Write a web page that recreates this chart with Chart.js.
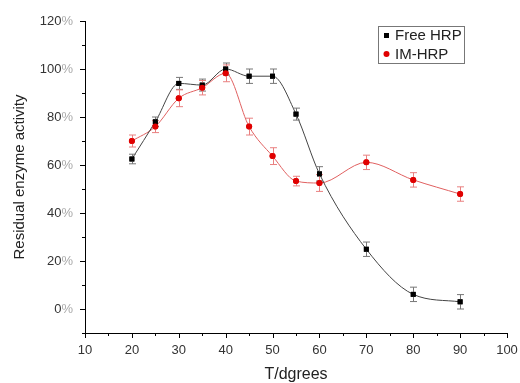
<!DOCTYPE html>
<html>
<head>
<meta charset="utf-8">
<script src="https://cdn.jsdelivr.net/npm/chart.js@4.4.1/dist/chart.umd.min.js"></script>
<style>
  html, body { margin: 0; padding: 0; background: #fff; }
</style>
</head>
<body>
<canvas id="myChart" width="520" height="383"></canvas>
<script>
// data
var temps = [20, 25, 30, 35, 40, 45, 50, 55, 60, 70, 80, 90];
var freeHRP = [62.5, 78, 94, 93.3, 100, 97, 97, 81.2, 56.3, 24.9, 6.1, 3];
var freeErr = [2, 2, 2.5, 2.5, 2.5, 3, 3, 2.5, 3, 3, 3, 3];
var imHRP = [70, 76, 87.8, 92.2, 98.2, 76, 63.7, 53.3, 52.5, 61.1, 53.8, 47.9];
var imErr = [2.5, 2.5, 3.5, 3, 3.5, 3.5, 3.5, 2, 3.5, 3, 3, 3];
var xTickLabels = [10, 20, 30, 40, 50, 60, 70, 80, 90, 100];
var yTickLabels = [0, 20, 40, 60, 80, 100, 120];

var FONT = "'Liberation Sans', Arial, sans-serif";

function toPoints(xs, ys) {
    return xs.map(function (x, i) { return { x: x, y: ys[i] }; });
}

// error bars, then markers redrawn on top
var errorBars = {
    id: "errorBars",
    afterDatasetsDraw: function (chart) {
        var ctx = chart.ctx, xs = chart.scales.x, ys = chart.scales.y;
        chart.data.datasets.forEach(function (ds) {
            ctx.save();
            ctx.strokeStyle = ds.errColor;
            ctx.lineWidth = 1;
            ds.data.forEach(function (p, i) {
                var px = Math.round(xs.getPixelForValue(p.x)) + 0.5;
                var top = ys.getPixelForValue(p.y + ds.err[i]);
                var bot = ys.getPixelForValue(p.y - ds.err[i]);
                ctx.beginPath();
                ctx.moveTo(px, top); ctx.lineTo(px, bot);
                ctx.moveTo(px - 3.5, top); ctx.lineTo(px + 3.5, top);
                ctx.moveTo(px - 3.5, bot); ctx.lineTo(px + 3.5, bot);
                ctx.stroke();
            });
            ctx.restore();
        });
        chart.data.datasets.forEach(function (ds, i) {
            var meta = chart.getDatasetMeta(i);
            meta.data.forEach(function (pt) { pt.draw(ctx, chart.chartArea); });
        });
    }
};

// tick marks (major + minor), two tone y labels, boxed legend
var axisDecor = {
    id: "axisDecor",
    afterDraw: function (chart) {
        var ctx = chart.ctx, xs = chart.scales.x, ys = chart.scales.y;
        var area = chart.chartArea;
        ctx.save();
        ctx.strokeStyle = "#000";
        ctx.lineWidth = 1;
        ctx.beginPath();
        for (var v = -10; v <= 120; v += 10) {
            var py = Math.round(ys.getPixelForValue(v)) + 0.5;
            var len = (v % 20 === 0) ? 5 : 3;
            ctx.moveTo(area.left - len, py); ctx.lineTo(area.left, py);
        }
        for (var t = 10; t <= 100; t += 5) {
            var px = Math.round(xs.getPixelForValue(t)) + 0.5;
            var l2 = (t % 10 === 0) ? 5 : 3;
            ctx.moveTo(px, area.bottom); ctx.lineTo(px, area.bottom + l2);
        }
        ctx.stroke();

        ctx.font = "13px " + FONT;
        ctx.textBaseline = "middle";
        var pctW = ctx.measureText("%").width;
        yTickLabels.forEach(function (v) {
            var py = ys.getPixelForValue(v);
            ctx.textAlign = "right";
            ctx.fillStyle = "#aaa";
            ctx.fillText("%", 73, py);
            ctx.fillStyle = "#333";
            ctx.fillText(String(v), 73 - pctW, py);
        });

        // legend
        var lx = 378, ly = 26, lw = 86, lh = 37;
        ctx.strokeStyle = "#777";
        ctx.strokeRect(lx + 0.5, ly + 0.5, lw, lh);
        ctx.font = "15px " + FONT;
        ctx.textAlign = "left";
        ctx.fillStyle = "#000";
        ctx.fillRect(384, 33, 5, 5);
        ctx.fillStyle = "#222";
        ctx.fillText("Free HRP", 395, 36);
        ctx.fillStyle = "#e00000";
        ctx.beginPath();
        ctx.arc(386.5, 54, 3, 0, Math.PI * 2);
        ctx.fill();
        ctx.fillStyle = "#222";
        ctx.fillText("IM-HRP", 395, 54.5);
        ctx.restore();
    }
};

var ctx = document.getElementById("myChart").getContext("2d");
var myChart = new Chart(ctx, {
    type: "line",
    data: {
        datasets: [
            {
                label: "Free HRP",
                data: toPoints(temps, freeHRP),
                err: freeErr,
                errColor: "#777",
                borderColor: "#444",
                borderWidth: 1,
                backgroundColor: "#000",
                pointStyle: "rect",
                pointRadius: 3.5,
                pointBorderWidth: 0,
                cubicInterpolationMode: "monotone",
            },
            {
                label: "IM-HRP",
                data: toPoints(temps, imHRP),
                err: imErr,
                errColor: "#e98080",
                borderColor: "#e06060",
                borderWidth: 1,
                backgroundColor: "#e00000",
                pointStyle: "circle",
                pointRadius: 3,
                pointBorderWidth: 0,
                cubicInterpolationMode: "monotone",
            },
        ],
    },
    options: {
        responsive: false,
        animation: false,
        devicePixelRatio: 1,
        layout: { padding: { top: 21, right: 13, left: 0, bottom: 0 } },
        plugins: { legend: { display: false }, tooltip: { enabled: false } },
        scales: {
            x: {
                type: "linear",
                min: 10,
                max: 100,
                afterFit: function (s) {
                    s.height = 50;
                    s.paddingLeft = 0;
                    s.paddingRight = 0;
                },
                border: { display: true, color: "#000", width: 1 },
                grid: { display: false, drawTicks: false },
                ticks: {
                    stepSize: 10,
                    padding: 10,
                    color: "#333",
                    font: { family: FONT, size: 13 },
                    maxRotation: 0,
                },
                title: {
                    display: true,
                    text: "T/dgrees",
                    color: "#222",
                    font: { family: FONT, size: 16, lineHeight: 1 },
                    padding: { top: 0, bottom: 0 },
                },
            },
            y: {
                min: -10,
                max: 120,
                afterFit: function (s) {
                    s.width = 85;
                    s.paddingTop = 0;
                    s.paddingBottom = 0;
                },
                border: { display: true, color: "#000", width: 1 },
                grid: { display: false, drawTicks: false },
                ticks: { display: false, stepSize: 10 },
                title: {
                    display: true,
                    text: "Residual enzyme activity",
                    color: "#222",
                    font: { family: FONT, size: 15, lineHeight: 1 },
                    padding: { top: 12, bottom: 0 },
                },
            },
        },
    },
    plugins: [errorBars, axisDecor],
});
</script>
</body>
</html>
